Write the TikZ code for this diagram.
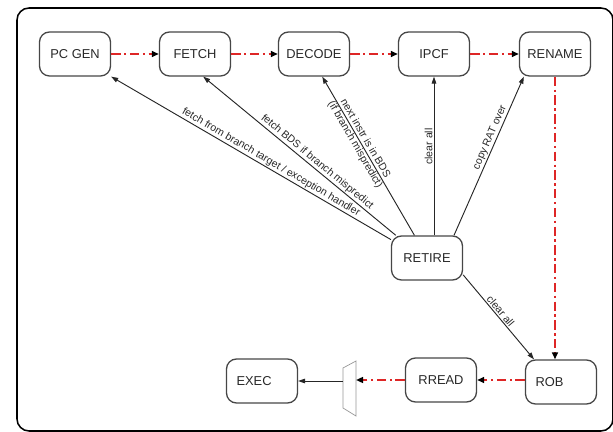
\documentclass[tikz,border=0pt]{standalone}
\usepackage{fontspec}
\setmainfont{Liberation Sans}
\usetikzlibrary{arrows.meta}
\definecolor{pipered}{RGB}{222,38,38}
\definecolor{boxgray}{RGB}{70,70,70}
\definecolor{txtgray}{RGB}{40,40,40}
\definecolor{muxgray}{RGB}{150,150,150}
\begin{document}
\begin{tikzpicture}
[x=0.03cm,y=-0.03cm,
 stage/.style={draw=boxgray,line width=1.1pt,rounded corners=0.3cm,minimum width=2.13cm,minimum height=1.32cm,inner sep=2pt,text=txtgray,font=\fontsize{11}{13}\selectfont},
 leftstage/.style={stage,align=left,text width=1.53cm,inner xsep=0.3cm},
 flow/.style={draw=pipered,line width=1.6pt,dash pattern=on 8pt off 3pt on 2pt off 3pt,-{Triangle[length=6pt,width=5pt,color=black]}},
 ctrl/.style={draw=black!85,line width=0.8pt,-{Triangle[length=6pt,width=4pt]}},
 lbl/.style={sloped,font=\fontsize{9}{10}\selectfont,text=txtgray,inner sep=1pt}]
\clip (0,0) rectangle (613,432);
\draw[line width=1.3pt,rounded corners=0.36cm] (17,8) rectangle (613,431);

% front end
\node[stage] (pcgen)  at ( 75,54) {PC GEN};
\node[stage] (fetch)  at (195,54) {FETCH};
\node[stage] (decode) at (314,54) {DECODE};
\node[stage] (ipcf)   at (434,54) {IPCF};
\node[stage] (rename) at (555,54) {RENAME};
\draw[flow] (pcgen) -- (fetch);
\draw[flow] (fetch) -- (decode);
\draw[flow] (decode) -- (ipcf);
\draw[flow] (ipcf) -- (rename);

% back end
\node[leftstage] (rob)   at (561,382) {ROB};
\node[stage]     (rread) at (441,380) {RREAD};
\node[leftstage] (exec)  at (262,381) {EXEC};
\draw[muxgray,line width=0.6pt] (343,368) -- (356,361) -- (356,416) -- (343,408) -- cycle;
\coordinate (muxin)  at (356,380);
\coordinate (muxout) at (343,381);
\draw[flow] (rename.south) -- (rename.south |- rob.north);
\draw[flow] (rob.west |- rread) -- (rread.east);
\draw[flow] (rread.west) -- (muxin);
\draw[ctrl] (muxout) -- (muxout -| exec.east);

% retire and its controls
\node[stage] (retire) at (427,258) {RETIRE};
\draw[ctrl] (retire.153) -- node[lbl,above,pos=0.44] {fetch from branch target / exception handler} (pcgen.south east);
\draw[ctrl] (retire.144) -- node[lbl,above,pos=0.43] {fetch BDS if branch mispredict} (fetch.-70);
\draw[ctrl] (retire.119) -- node[lbl,align=center,pos=0.59] {next instr is in BDS\\(if branch mispredict)} (decode.-70);
\draw[ctrl] (retire.north -| ipcf.south) -- node[lbl,above,pos=0.56] {clear all} (ipcf.south);
\draw[ctrl] (retire.40) -- node[lbl,above,pos=0.6] {copy RAT over} (rename.-144);
\draw[ctrl] (retire.-25) -- node[lbl,above,pos=0.47] {clear all} (rob.140);
\end{tikzpicture}
\end{document}
